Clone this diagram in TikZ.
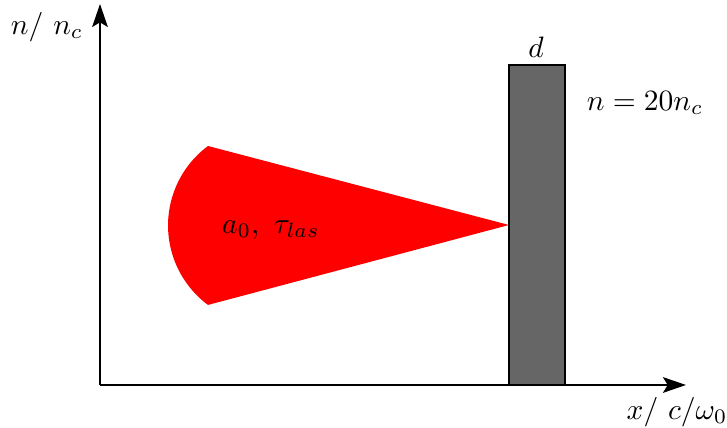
\documentclass[tikz,border=0pt]{standalone}
\usetikzlibrary{arrows.meta}
\begin{document}
\begin{tikzpicture}[x=0.339pt,y=0.339pt,
  axis/.style={line width=0.8pt,-{Stealth[length=7.8pt,width=5.3pt,inset=1.6pt]}},
  lbl/.style={inner sep=0pt}]
\useasboundingbox (0,0) rectangle (727,428);
% laser cone
\fill[red] (509,203) -- (208,282) arc[start angle=126.6,end angle=233.4,radius=99] -- cycle;
% target
\draw[fill=black!60,line width=0.4pt] (509,43) rectangle (565,363);
% axes
\coordinate (o) at (100,43);
\coordinate (ytop) at (100,424);
\coordinate (xend) at (686,43);
\draw[axis] (o) -- (ytop);
\draw[axis] (o) -- (xend);
% labels
\node[lbl] (ylab) at (47,401) {$n/\ n_c$};
\node[lbl] (xlab) at (677,16) {$x/\ c/\omega_0$};
\node[lbl] (dlab) at (536,381) {$d$};
\node[lbl] (nlab) at (645,325) {$n=20n_c$};
\node[lbl] (alab) at (271,198) {$a_0,\ \tau_{las}$};
\end{tikzpicture}
\end{document}
